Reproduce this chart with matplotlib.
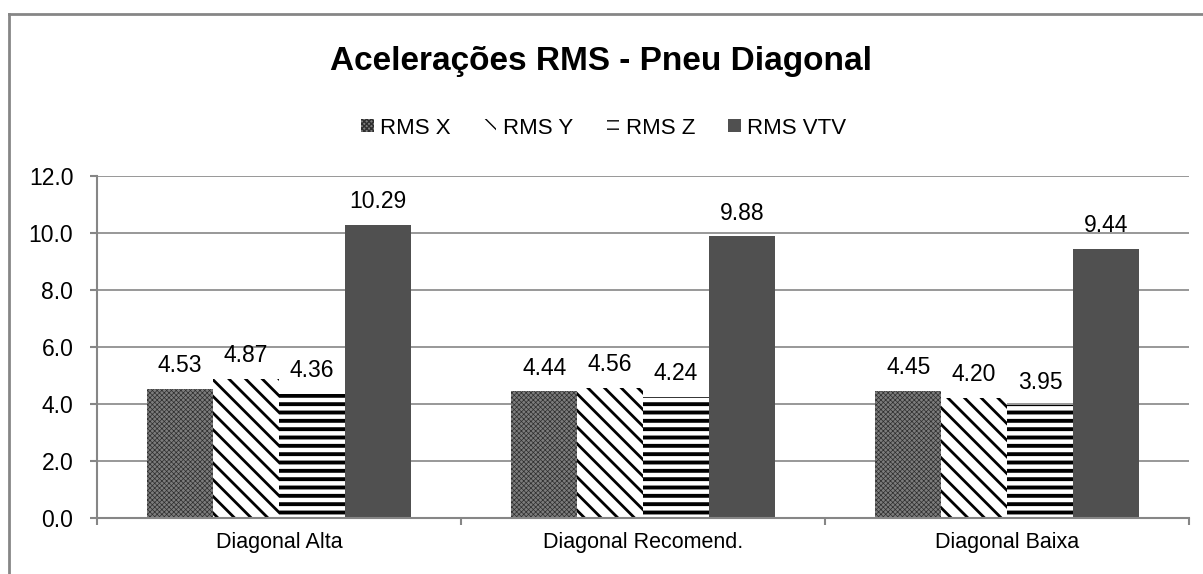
import numpy as np
import matplotlib
matplotlib.use("Agg")
import matplotlib.pyplot as plt
from matplotlib.lines import Line2D
from matplotlib.patches import Patch

# Data
categories = ["Diagonal Alta", "Diagonal Recomend.", "Diagonal Baixa"]
series_names = ["RMS X", "RMS Y", "RMS Z", "RMS VTV"]
rms_x = [4.53, 4.44, 4.45]
rms_y = [4.87, 4.56, 4.20]
rms_z = [4.36, 4.24, 3.95]
rms_vtv = [10.29, 9.88, 9.44]
y_ticks = [0.0, 2.0, 4.0, 6.0, 8.0, 10.0, 12.0]

values = [rms_x, rms_y, rms_z, rms_vtv]

plt.rcParams['font.family'] = ['Liberation Sans', 'DejaVu Sans']
GRAY = "#868686"
BSL = chr(92)

# Fill style of each series: (facecolor, hatch, hatch colour, hatch linewidth)
styles = [
    ("#7c7c7c", "xxxxxxx", "#2e2e2e", 0.5),
    ("white", BSL * 2, "black", 2.0),
    ("white", "--", "black", 2.8),
    ("#505050", None, "#505050", 1.0),
]

fig = plt.figure(figsize=(12.03, 5.74), dpi=100)
ax = fig.add_axes([0.0806, 0.0976, 0.9078, 0.5958])

x = np.arange(len(categories))
bar_w = 0.181
offsets = (np.arange(4) - 1.5) * bar_w

handles = []
for vals, off, (fc, hatch, hc, hlw), name in zip(values, offsets, styles, series_names):
    with plt.rc_context({'hatch.linewidth': hlw}):
        bars = ax.bar(x + off, vals, width=bar_w, color=fc, edgecolor=hc,
                      hatch=hatch, linewidth=0, zorder=2)
        handles.append(Patch(facecolor=fc, edgecolor=hc, hatch=hatch,
                             linewidth=0, label=name))
    for rect, v in zip(bars, vals):
        ax.annotate(f"{v:.2f}", (rect.get_x() + rect.get_width() / 2, v),
                    xytext=(0, 8.5), textcoords="offset points",
                    ha="center", va="bottom", fontsize=16.5)

ax.set_xlim(-0.5, len(categories) - 0.5)
ax.set_ylim(0, 12)
ax.set_yticks(y_ticks)
ax.set_yticklabels([f"{t:.1f}" for t in y_ticks], fontsize=16.5)
ax.yaxis.grid(True, color=GRAY, linewidth=1.2, zorder=0)
ax.set_axisbelow(True)

# Category boundaries carry the tick marks, labels sit at the centres
ax.set_xticks(np.arange(len(categories) + 1) - 0.5)
ax.set_xticklabels([])
ax.set_xticks(x, minor=True)
ax.set_xticklabels(categories, minor=True, fontsize=15.5)
ax.tick_params(axis="x", which="minor", length=0, pad=10)
ax.tick_params(axis="x", which="major", length=5, color=GRAY, width=1.5)
ax.tick_params(axis="y", length=5, color=GRAY, width=1.5, pad=12)

for side in ["left", "bottom"]:
    ax.spines[side].set_color(GRAY)
    ax.spines[side].set_linewidth(1.5)
ax.spines["right"].set_visible(False)
ax.spines["top"].set_visible(False)

fig.text(0.5, 0.893, "Acelerações RMS - Pneu Diagonal", ha="center", va="center",
         fontsize=24, fontweight="bold")

fig.legend(handles=handles, loc="center", bbox_to_anchor=(0.502, 0.777), ncol=4,
           frameon=False, fontsize=16, handlelength=0.55, handleheight=0.55,
           handletextpad=0.3, columnspacing=1.5)

# Outer chart border
fig.add_artist(Line2D([8.5 / 1203, 8.5 / 1203], [0, 1 - 13.5 / 574],
                      transform=fig.transFigure, color=GRAY, lw=2))
fig.add_artist(Line2D([8.5 / 1203, 1], [1 - 13.5 / 574, 1 - 13.5 / 574],
                      transform=fig.transFigure, color=GRAY, lw=2))

fig.savefig("out.png", dpi=100)
